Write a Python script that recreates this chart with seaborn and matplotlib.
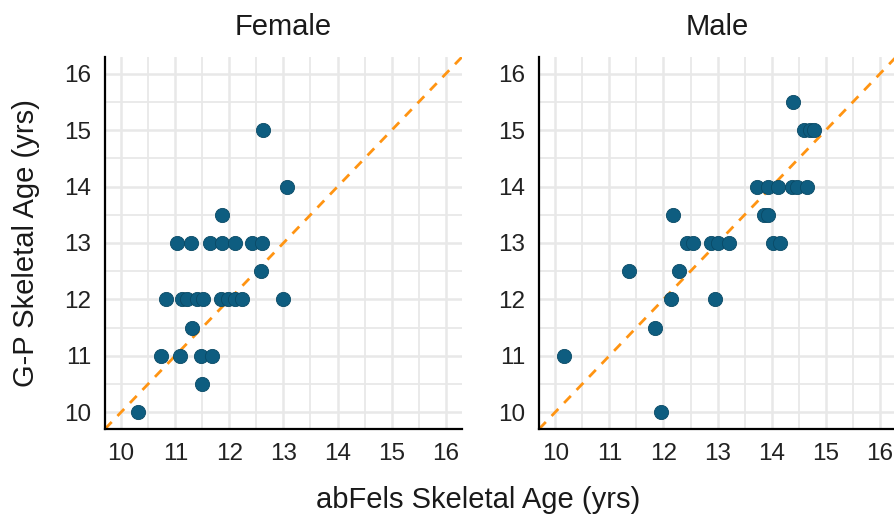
import pandas as pd
import numpy as np
import matplotlib.pyplot as plt
import seaborn as sns

# abFels vs G-P skeletal age
female_abfels = [10.32, 11.50, 10.73, 11.09, 11.48, 11.68, 11.31,
                 10.83, 11.12, 11.21, 11.41, 11.52, 11.84, 11.97, 12.10, 12.24, 13.00,
                 12.58,
                 11.03, 11.29, 11.65, 11.87, 12.10, 12.41, 12.60,
                 11.86, 13.07, 12.62]
female_gp = [10, 10.5, 11, 11, 11, 11, 11.5,
             12, 12, 12, 12, 12, 12, 12, 12, 12, 12,
             12.5,
             13, 13, 13, 13, 13, 13, 13,
             13.5, 14, 15]

male_abfels = [10.16, 11.95, 11.85, 11.37, 12.29, 12.13, 12.95, 12.18,
               12.43, 12.55, 12.87, 13.01, 13.22, 14.02, 14.15,
               13.85, 13.94,
               13.73, 13.93, 14.11, 14.37, 14.47, 14.65,
               14.60, 14.70, 14.79,
               14.40]
male_gp = [11, 10, 11.5, 12.5, 12.5, 12, 12, 13.5,
           13, 13, 13, 13, 13, 13, 13,
           13.5, 13.5,
           14, 14, 14, 14, 14, 14,
           15, 15, 15,
           15.5]

sexes = ['Female', 'Male']
ticks = [10, 11, 12, 13, 14, 15, 16]

df = pd.concat([
    pd.DataFrame({'abfels': female_abfels, 'gp': female_gp, 'sex': 'Female'}),
    pd.DataFrame({'abfels': male_abfels, 'gp': male_gp, 'sex': 'Male'}),
])

sns.set_style('white')
plt.rcParams['font.family'] = ['Liberation Sans', 'DejaVu Sans']

fig = plt.figure(figsize=(8.94, 5.21), dpi=100)
lefts = [0.1174, 0.603]
grid_col = '#E8E8E8'
txt_col = '#1a1a1a'

for i, sex in enumerate(sexes):
    ax = fig.add_axes([lefts[i], 0.1766, 0.3993, 0.714])
    ax.set_xlim(9.7, 16.3)
    ax.set_ylim(9.7, 16.3)
    ax.set_xticks(ticks)
    ax.set_yticks(ticks)
    ax.set_xticks(np.arange(10.5, 16, 1), minor=True)
    ax.set_yticks(np.arange(10.5, 16, 1), minor=True)
    ax.grid(which='major', color=grid_col, lw=1.8)
    ax.grid(which='minor', color=grid_col, lw=1.3)
    ax.set_axisbelow(True)

    # y = x reference
    ax.axline((10, 10), slope=1, color='#FF9412', ls=(0, (3.5, 3)), lw=2.0, zorder=2)
    sns.scatterplot(data=df[df['sex'] == sex], x='abfels', y='gp', ax=ax,
                    color='#0E5D80', edgecolor='#0A4A66', linewidth=0.6,
                    s=105, zorder=3, legend=False)

    for side in ['top', 'right']:
        ax.spines[side].set_visible(False)
    for side in ['left', 'bottom']:
        ax.spines[side].set_color('black')
        ax.spines[side].set_linewidth(1.6)
    ax.tick_params(which='major', length=5, width=1.4, color='black',
                   labelsize=17.5, labelcolor='#222222', pad=5)
    ax.tick_params(which='minor', length=0)
    ax.set_title(sex, fontsize=21, pad=16, color=txt_col)
    ax.set_xlabel('')
    ax.set_ylabel('')

fig.text(0.029, 0.5336, 'G-P Skeletal Age (yrs)', rotation=90, ha='center', va='center',
         fontsize=21, color=txt_col)
fig.text(0.535, 0.040, 'abFels Skeletal Age (yrs)', ha='center', va='center',
         fontsize=21, color=txt_col)

plt.savefig('out.png', dpi=100)
